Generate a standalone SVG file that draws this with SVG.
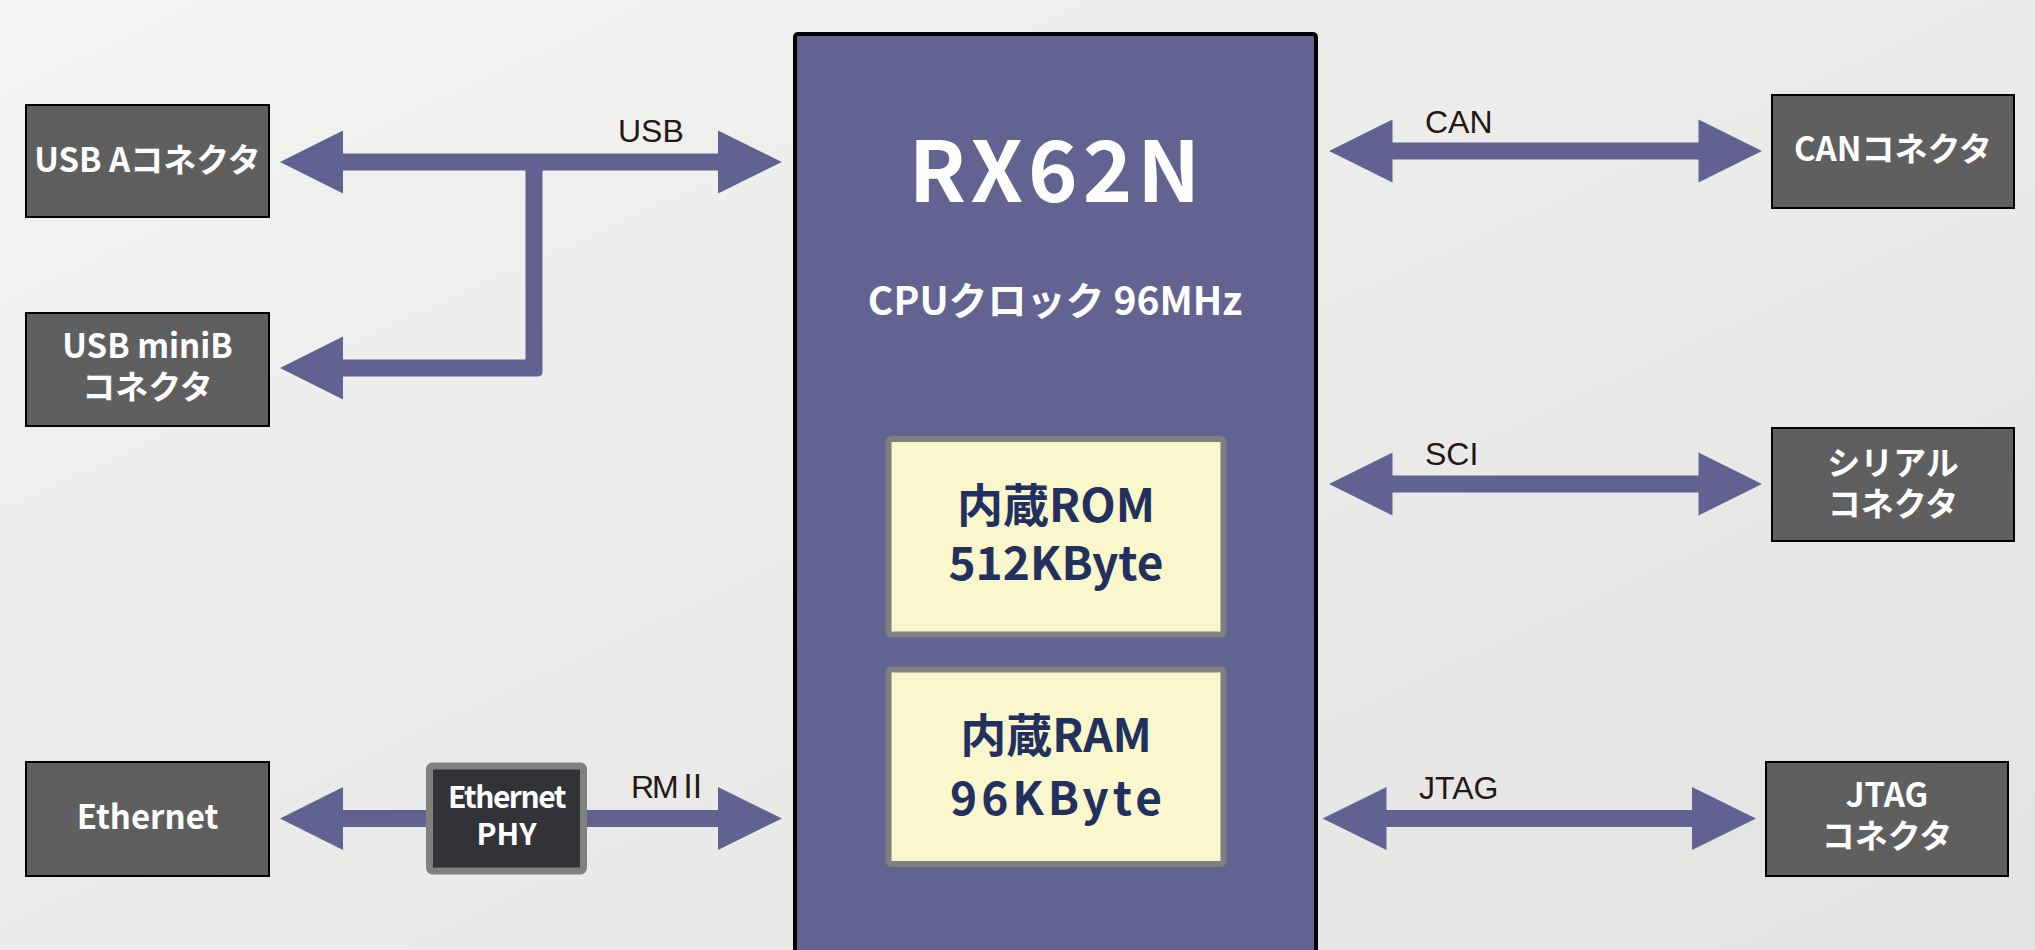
<svg xmlns="http://www.w3.org/2000/svg" width="2035" height="950" viewBox="0 0 2035 950">
<defs>
<linearGradient id="bg" x1="0" y1="0" x2="1" y2="1">
<stop offset="0" stop-color="#f3f3f1"/>
<stop offset="1" stop-color="#e3e3e1"/>
</linearGradient>
<style>
.conn{fill:#5f5f5f;stroke:#000;stroke-width:2}
.ctext{font-family:"Noto Sans CJK JP","Noto Sans",sans-serif;font-weight:bold;font-size:33px;fill:#fff;text-anchor:middle}
.lbl{font-family:"Liberation Sans","Noto Sans CJK JP",sans-serif;font-size:32px;fill:#231815}
.arrow{fill:#626292}
.mem{fill:#f9f7cb;stroke:#808080;stroke-width:6}
.mtext{font-family:"Noto Sans CJK JP","Noto Sans",sans-serif;font-weight:bold;font-size:46px;fill:#22305f;text-anchor:middle}
.wtext{font-family:"Noto Sans CJK JP","Noto Sans",sans-serif;font-weight:bold;fill:#fff;text-anchor:middle}
</style>
</defs>
<rect x="0" y="0" width="2035" height="950" fill="url(#bg)"/>

<g id="connectors">
<polygon class="arrow" points="280,162 343,130.5 343,153.5 718,153.5 718,130.5 782,162 718,193.5 718,170.5 343,170.5 343,193.5"/>
<path class="arrow" d="M280,368 L343,336.5 L343,359.5 L525.5,359.5 L525.5,165 L542.5,165 L542.5,371.5 Q542.5,376.5 537.5,376.5 L343,376.5 L343,399.5 Z"/>
<polygon class="arrow" points="280,818.5 343,787 343,810 718,810 718,787 782,818.5 718,850 718,827 343,827 343,850"/>
<polygon class="arrow" points="1329,151 1392.5,119.5 1392.5,142.5 1698.5,142.5 1698.5,119.5 1762,151 1698.5,182.5 1698.5,159.5 1392.5,159.5 1392.5,182.5"/>
<polygon class="arrow" points="1329,484 1392.5,452.5 1392.5,475.5 1698.5,475.5 1698.5,452.5 1762,484 1698.5,515.5 1698.5,492.5 1392.5,492.5 1392.5,515.5"/>
<polygon class="arrow" points="1322.5,818.5 1386.5,787 1386.5,810 1692,810 1692,787 1756,818.5 1692,850 1692,827 1386.5,827 1386.5,850"/>
<text class="lbl" x="618" y="142">USB</text>
<text class="lbl" x="631" y="798" font-family="'Noto Sans CJK JP',sans-serif" font-size="30" letter-spacing="-2">RMⅡ</text>
<text class="lbl" x="1425" y="133">CAN</text>
<text class="lbl" x="1425" y="465">SCI</text>
<text class="lbl" x="1419" y="799">JTAG</text>
</g>

<g id="cpu">
<rect x="795" y="34" width="521" height="940" rx="3" fill="#636391" stroke="#000" stroke-width="4"/>
<text class="wtext" x="1057" y="202" font-size="84" letter-spacing="5">RX62N</text>
<text class="wtext" x="1055" y="315" font-size="39">CPUクロック 96MHz</text>
</g>

<g id="rom">
<rect class="mem" x="888.5" y="439" width="335" height="195.5" rx="3"/>
<text class="mtext" x="1056" y="522">内蔵ROM</text>
<text class="mtext" x="1056" y="580">512KByte</text>
</g>

<g id="ram">
<rect class="mem" x="888.5" y="669.5" width="335" height="194.5" rx="3"/>
<text class="mtext" x="1056" y="752">内蔵RAM</text>
<text class="mtext" x="1058" y="815" letter-spacing="4">96KByte</text>
</g>

<g id="usb-a">
<rect class="conn" x="26" y="105" width="243" height="112"/>
<text class="ctext" x="147.5" y="172">USB Aコネクタ</text>
</g>

<g id="usb-minib">
<rect class="conn" x="26" y="313" width="243" height="113"/>
<text class="ctext" x="147.5" y="358">USB miniB</text>
<text class="ctext" x="147.5" y="399">コネクタ</text>
</g>

<g id="ethernet">
<rect class="conn" x="26" y="762" width="243" height="114"/>
<text class="ctext" x="147.5" y="829">Ethernet</text>
</g>

<g id="phy">
<rect x="429.5" y="766" width="154" height="105" rx="3" fill="#323336" stroke="#808080" stroke-width="7"/>
<text class="wtext" x="506.5" y="808" font-size="30" letter-spacing="-1.5">Ethernet</text>
<text class="wtext" x="506.5" y="845" font-size="30">PHY</text>
</g>

<g id="can">
<rect class="conn" x="1772" y="95" width="242" height="113"/>
<text class="ctext" x="1893" y="161">CANコネクタ</text>
</g>

<g id="serial">
<rect class="conn" x="1772" y="428" width="242" height="113"/>
<text class="ctext" x="1893" y="475">シリアル</text>
<text class="ctext" x="1893" y="516">コネクタ</text>
</g>

<g id="jtag">
<rect class="conn" x="1766" y="762" width="242" height="114"/>
<text class="ctext" x="1887" y="807">JTAG</text>
<text class="ctext" x="1887" y="848">コネクタ</text>
</g>
</svg>
